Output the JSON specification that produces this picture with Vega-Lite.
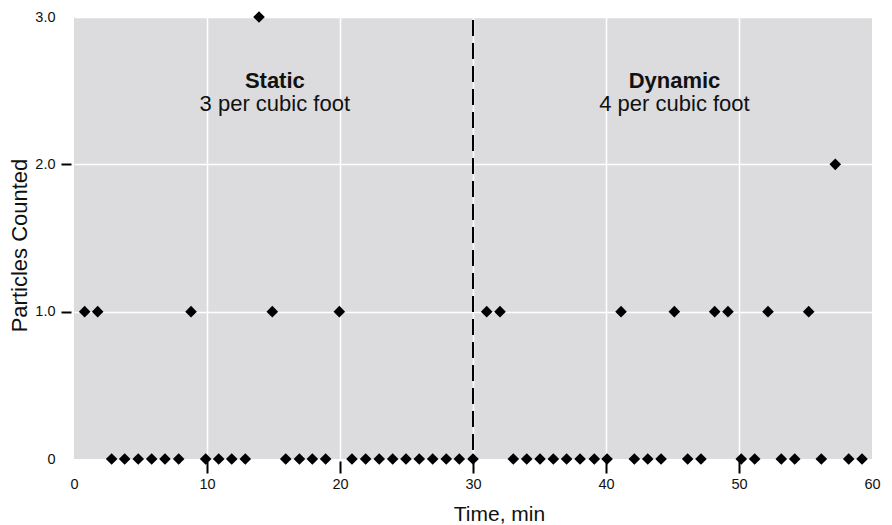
{
  "$schema": "https://vega.github.io/schema/vega-lite/v6.json",
  "width": 798,
  "height": 442,
  "padding": {"left": 74, "top": 17, "right": 20, "bottom": 66},
  "autosize": {"type": "none"},
  "config": {
    "font": "Liberation Sans",
    "view": {"fill": "#dcdcde", "stroke": null}
  },
  "datasets": {
    "points": [
      {"time": 0.80, "count": 1}, {"time": 1.78, "count": 1}, {"time": 2.83, "count": 0}, {"time": 3.81, "count": 0},
      {"time": 4.83, "count": 0}, {"time": 5.84, "count": 0}, {"time": 6.84, "count": 0}, {"time": 7.87, "count": 0},
      {"time": 8.80, "count": 1}, {"time": 9.90, "count": 0}, {"time": 10.88, "count": 0}, {"time": 11.86, "count": 0},
      {"time": 12.88, "count": 0}, {"time": 13.91, "count": 3}, {"time": 14.91, "count": 1}, {"time": 15.92, "count": 0},
      {"time": 16.95, "count": 0}, {"time": 17.92, "count": 0}, {"time": 18.92, "count": 0}, {"time": 19.95, "count": 1},
      {"time": 20.90, "count": 0}, {"time": 21.93, "count": 0}, {"time": 22.95, "count": 0}, {"time": 23.96, "count": 0},
      {"time": 24.96, "count": 0}, {"time": 25.96, "count": 0}, {"time": 26.97, "count": 0}, {"time": 27.99, "count": 0},
      {"time": 28.97, "count": 0}, {"time": 30.00, "count": 0}, {"time": 31.03, "count": 1}, {"time": 32.03, "count": 1},
      {"time": 33.03, "count": 0}, {"time": 34.04, "count": 0}, {"time": 35.04, "count": 0}, {"time": 36.04, "count": 0},
      {"time": 37.04, "count": 0}, {"time": 38.05, "count": 0}, {"time": 39.12, "count": 0}, {"time": 40.08, "count": 0},
      {"time": 41.13, "count": 1}, {"time": 42.13, "count": 0}, {"time": 43.14, "count": 0}, {"time": 44.14, "count": 0},
      {"time": 45.14, "count": 1}, {"time": 46.14, "count": 0}, {"time": 47.14, "count": 0}, {"time": 48.17, "count": 1},
      {"time": 49.17, "count": 1}, {"time": 50.17, "count": 0}, {"time": 51.18, "count": 0}, {"time": 52.18, "count": 1},
      {"time": 53.18, "count": 0}, {"time": 54.19, "count": 0}, {"time": 55.24, "count": 1}, {"time": 56.19, "count": 0},
      {"time": 57.24, "count": 2}, {"time": 58.25, "count": 0}, {"time": 59.25, "count": 0}
    ],
    "divider": [{"time": 30}],
    "labels": [
      {"time": 15.1, "count": 2.517, "label": "Static", "kind": "head"},
      {"time": 15.1, "count": 2.359, "label": "3 per cubic foot", "kind": "sub"},
      {"time": 45.15, "count": 2.517, "label": "Dynamic", "kind": "head"},
      {"time": 45.15, "count": 2.359, "label": "4 per cubic foot", "kind": "sub"}
    ]
  },
  "layer": [
    {
      "data": {"name": "points"},
      "mark": {"type": "point", "shape": "diamond", "filled": true, "color": "black", "size": 0, "opacity": 0},
      "encoding": {
        "x": {
          "field": "time", "type": "quantitative",
          "scale": {"domain": [0, 60], "nice": false, "zero": false},
          "axis": {
            "values": [0, 10, 20, 30, 40, 50, 60],
            "title": "Time, min",
            "domain": false,
            "offset": 2,
            "tickSize": 12,
            "tickWidth": 2,
            "tickColor": "black",
            "tickOpacity": {"condition": {"test": "datum.value == 0 || datum.value == 60", "value": 0}, "value": 1},
            "labelPadding": 4,
            "labelFontSize": 14.5,
            "labelColor": "#111111",
            "labelFlush": false,
            "labelOverlap": false,
            "grid": true,
            "gridColor": "white",
            "gridWidth": 1.5,
            "gridOpacity": {"condition": {"test": "datum.value == 0 || datum.value == 60", "value": 0}, "value": 1},
            "titleFontSize": 21,
            "titleFontWeight": "normal",
            "titleColor": "#111111",
            "titleX": 425,
            "titleY": 59.5,
            "titleBaseline": "alphabetic"
          }
        },
        "y": {
          "field": "count", "type": "quantitative",
          "scale": {"domain": [0, 3], "nice": false, "zero": false},
          "axis": {
            "values": [0, 1, 2, 3],
            "labelExpr": "datum.value == 0 ? '0' : format(datum.value, '.1f')",
            "title": "Particles Counted",
            "domain": false,
            "offset": 3,
            "tickSize": 10,
            "tickWidth": 2,
            "tickColor": "black",
            "tickOpacity": {"condition": {"test": "datum.value == 0 || datum.value == 3", "value": 0}, "value": 1},
            "labelPadding": 6,
            "labelFontSize": 14.5,
            "labelColor": "#111111",
            "labelOverlap": false,
            "grid": true,
            "gridColor": "white",
            "gridWidth": 1.5,
            "gridOpacity": {"condition": {"test": "datum.value == 0", "value": 0}, "value": 1},
            "titleFontSize": 22,
            "titleFontWeight": "normal",
            "titleColor": "#111111",
            "titleX": -45,
            "titleY": 228,
            "titleAngle": 270,
            "titleBaseline": "alphabetic"
          }
        }
      }
    },
    {
      "data": {"name": "divider"},
      "mark": {"type": "rule", "color": "black", "strokeWidth": 2, "strokeDash": [16, 7], "strokeDashOffset": -3},
      "encoding": {"x": {"field": "time", "type": "quantitative"}}
    },
    {
      "data": {"name": "points"},
      "mark": {"type": "point", "shape": "diamond", "filled": true, "color": "black", "size": 135, "opacity": 1},
      "encoding": {
        "x": {"field": "time", "type": "quantitative"},
        "y": {"field": "count", "type": "quantitative"}
      }
    },
    {
      "data": {"name": "labels"},
      "transform": [{"filter": "datum.kind == 'head'"}],
      "mark": {"type": "text", "align": "center", "baseline": "alphabetic", "fontSize": 22, "fontWeight": "bold", "color": "#111111"},
      "encoding": {
        "x": {"field": "time", "type": "quantitative"},
        "y": {"field": "count", "type": "quantitative"},
        "text": {"field": "label"}
      }
    },
    {
      "data": {"name": "labels"},
      "transform": [{"filter": "datum.kind == 'sub'"}],
      "mark": {"type": "text", "align": "center", "baseline": "alphabetic", "fontSize": 22, "fontWeight": "normal", "color": "#111111"},
      "encoding": {
        "x": {"field": "time", "type": "quantitative"},
        "y": {"field": "count", "type": "quantitative"},
        "text": {"field": "label"}
      }
    }
  ]
}
